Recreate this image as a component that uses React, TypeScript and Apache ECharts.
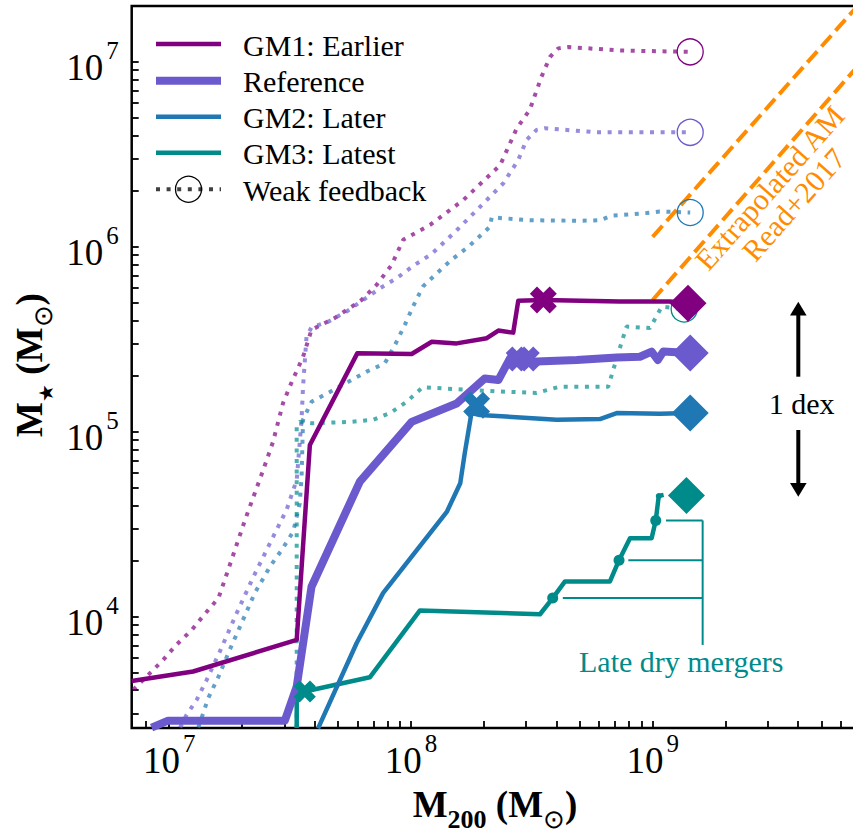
import { useEffect, useRef } from 'react';
import * as echarts from 'echarts';

const SERIF = 'Liberation Serif';

// ---------------- data (M200 and M* in solar masses) ----------------
// GM1: Earlier (solid)
const gm1M200 = [7.0e6, 1.257e7, 3.37e7, 3.82e7, 6.0e7, 1.007e8, 1.22e8, 1.546e8, 2.06e8, 2.3e8, 2.65e8, 2.78e8, 3.53e8, 7.3e8, 1.18e9, 1.4e9];
const gm1Mstar = [4.49e3, 5.05e3, 7.48e3, 8.47e4, 2.65e5, 2.63e5, 3.06e5, 3.0e5, 3.2e5, 3.52e5, 3.43e5, 5.1e5, 5.15e5, 5.05e5, 5.05e5, 4.94e5];
// Reference (solid)
const refM200 = [8.46e6, 9.9e6, 3.01e7, 3.37e7, 3.88e7, 6.15e7, 1.007e8, 1.546e8, 2.02e8, 2.3e8, 2.57e8, 3.1e8, 4.85e8, 7.1e8, 8.86e8, 9.9e8, 1.05e9, 1.106e9, 1.43e9];
const refMstar = [2.51e3, 2.74e3, 2.74e3, 4.19e3, 1.45e4, 5.37e4, 1.13e5, 1.42e5, 1.94e5, 1.9e5, 2.49e5, 2.39e5, 2.44e5, 2.52e5, 2.54e5, 2.71e5, 2.44e5, 2.71e5, 2.66e5];
// GM2: Later (solid)
const gm2M200 = [4.13e7, 5.96e7, 7.67e7, 1.41e8, 1.6e8, 1.67e8, 1.78e8, 1.93e8, 4.01e8, 6.05e8, 7.1e8, 1.07e9, 1.43e9];
const gm2Mstar = [2.49e3, 7.18e3, 1.34e4, 3.7e4, 5.26e4, 7.64e4, 1.26e5, 1.23e5, 1.16e5, 1.17e5, 1.26e5, 1.25e5, 1.26e5];
// GM3: Latest (solid)
const gm3M200 = [3.37e7, 3.37e7, 3.64e7, 6.76e7, 1.09e8, 3.42e8, 3.86e8, 4.34e8, 6.66e8, 7.26e8, 8.06e8, 9.9e8, 1.03e9, 1.06e9, 1.11e9];
const gm3Mstar = [2.5e3, 4.02e3, 3.94e3, 4.7e3, 1.08e4, 1.03e4, 1.26e4, 1.55e4, 1.55e4, 2.02e4, 2.65e4, 2.65e4, 3.31e4, 4.49e4, 4.55e4];

// Weak feedback (dotted)
const gm1wM200 = [7.1e6, 8.19e6, 9.44e6, 1.07e7, 1.24e7, 1.41e7, 1.6e7, 1.81e7, 2.06e7, 2.45e7, 2.69e7, 2.96e7, 3.2e7, 3.58e7, 3.88e7, 4.85e7, 6.25e7, 7.21e7, 8.32e7, 9.29e7, 1.2e8, 1.65e8, 2.34e8, 2.74e8, 3.1e8, 3.47e8, 3.76e8, 4.07e8, 4.48e8, 7.32e8, 1.43e9];
const gm1wMstar = [4.02e3, 4.84e3, 5.83e3, 7.03e3, 8.47e3, 1.04e4, 1.26e4, 2.02e4, 3.33e4, 6.21e4, 8.82e4, 1.43e5, 1.83e5, 2.54e5, 3.55e5, 4.12e5, 5.15e5, 6.21e5, 7.96e5, 1.09e6, 1.31e6, 1.79e6, 2.76e6, 4.36e6, 5.48e6, 8.3e6, 1.06e7, 1.18e7, 1.2e7, 1.15e7, 1.13e7];
const refwM200 = [1.11e7, 1.18e7, 1.3e7, 1.43e7, 1.62e7, 1.9e7, 2.23e7, 2.53e7, 2.78e7, 3.06e7, 3.37e7, 3.53e7, 3.58e7, 3.7e7, 3.88e7, 4.55e7, 5.42e7, 7.45e7, 8.73e7, 1.02e8, 1.22e8, 1.55e8, 1.93e8, 2.41e8, 2.78e8, 3.01e8, 3.31e8, 3.58e8, 5.86e8, 1.43e9];
const refwMstar = [2.51e3, 2.94e3, 3.55e3, 4.55e3, 6.47e3, 1.04e4, 1.64e4, 2.29e4, 2.94e4, 3.78e4, 5.48e4, 1.16e5, 1.75e5, 3.26e5, 3.67e5, 3.93e5, 4.46e5, 5.96e5, 6.75e5, 7.86e5, 9.14e5, 1.23e6, 1.64e6, 2.2e6, 2.94e6, 3.78e6, 4.28e6, 4.37e6, 4.15e6, 4.15e6];
const gm2wM200 = [1.32e7, 1.45e7, 1.6e7, 1.78e7, 2.02e7, 2.26e7, 2.61e7, 2.92e7, 3.26e7, 3.47e7, 3.53e7, 3.58e7, 3.88e7, 4.62e7, 5.51e7, 6.56e7, 7.8e7, 8.59e7, 9.44e7, 1.02e8, 1.12e8, 1.28e8, 1.47e8, 1.73e8, 2.12e8, 2.16e8, 3.1e8, 5.0e8, 6.05e8, 6.77e8, 9.44e8, 1.07e9, 1.43e9];
const gm2wMstar = [2.51e3, 3.62e3, 4.74e3, 6.61e3, 9.6e3, 1.34e4, 1.86e4, 2.29e4, 2.88e4, 4.1e4, 5.71e4, 1.16e5, 1.45e5, 1.64e5, 1.86e5, 2.11e5, 2.34e5, 2.94e5, 3.78e5, 4.74e5, 6.08e5, 7.18e5, 8.48e5, 1.0e6, 1.28e6, 1.44e6, 1.39e6, 1.38e6, 1.39e6, 1.47e6, 1.52e6, 1.55e6, 1.53e6];
const gm3wM200 = [3.37e7, 3.37e7, 3.47e7, 3.88e7, 5.68e7, 6.99e7, 8.19e7, 9.6e7, 1.12e8, 1.28e8, 2.26e8, 3.31e8, 4.13e8, 6.55e8, 7.2e8, 7.8e8, 9.75e8, 1.09e9, 1.35e9];
const gm3wMstar = [2.5e3, 1.09e5, 1.13e5, 1.11e5, 1.13e5, 1.16e5, 1.26e5, 1.45e5, 1.74e5, 1.72e5, 1.65e5, 1.62e5, 1.75e5, 1.75e5, 2.65e5, 3.7e5, 3.63e5, 4.74e5, 4.6e5];

// end points (z=0)
const finalM200 = [1.4e9, 1.43e9, 1.43e9, 1.38e9];
const finalMstar = [4.94e5, 2.66e5, 1.26e5, 4.52e4];
const weakFinalM200 = [1.43e9, 1.43e9, 1.43e9, 1.35e9];
const weakFinalMstar = [1.13e7, 4.15e6, 1.53e6, 4.6e5];
// X markers (GM1, Reference x2, GM2, GM3)
const crossM200 = [3.53e8, 2.78e8, 3.03e8, 1.87e8, 3.64e7];
const crossMstar = [5.15e5, 2.47e5, 2.47e5, 1.39e5, 3.94e3];
// late dry mergers on GM3
const mergerM200 = [3.86e8, 7.26e8, 1.03e9, 1.06e9];
const mergerMstar = [1.26e4, 2.02e4, 3.31e4, 4.49e4];
// Extrapolated abundance matching (Read+2017) band edges
const amM200 = [1e9, 1e10];
const amUpper = [1.13e6, 3.36e7];
const amLower = [5.15e5, 1.59e7];
// bracket for "Late dry mergers"
const bracketStartM200 = [4.25e8, 7.93e8, 1.135e9];
const bracketEndM200 = 1.61e9;
const bracketLowMstar = 7.03e3;

// tick values
const xTickLabels = [1e7, 1e8, 1e9];
const yTickLabels = [1e4, 1e5, 1e6, 1e7];

const PURPLE = '#800080';
const SLATE = '#6A5ACD';
const BLUE = '#1F77B4';
const TEAL = '#008B8B';
const ORANGE = '#FF8C00';

const pairs = (xs: number[], ys: number[]) => xs.map((x, i) => [x, ys[i]]);

function minorTicks(lo: number, hi: number) {
  const out: number[] = [];
  for (let e = 2; e <= 10; e++) {
    const p = Math.pow(10, e);
    for (let m = 1; m <= 9; m++) {
      const v = m * p;
      if (v >= lo * 0.999 && v <= hi * 1.001) out.push(v);
    }
  }
  return out;
}

const X_MIN = 7e6, X_MAX = 1e10, Y_MIN = 2.5e3, Y_MAX = 2e7;

const XPATH = 'path://M-0.18,-0.5L0.18,-0.5L0.18,-0.18L0.5,-0.18L0.5,0.18L0.18,0.18L0.18,0.5L-0.18,0.5L-0.18,0.18L-0.5,0.18L-0.5,-0.18L-0.18,-0.18Z';

const labelRich = {
  b: { fontFamily: SERIF, fontSize: 37, color: '#000', verticalAlign: 'top', padding: [11, 0, 0, 0] },
  s: { fontFamily: SERIF, fontSize: 25, color: '#000', verticalAlign: 'top', padding: [0, 0, 0, 3] },
};
const powFmt = (v: number) => `{b|10}{s|${Math.round(Math.log10(v))}}`;

function solid(name: string, xs: number[], ys: number[], color: string, width: number, z = 4) {
  return {
    name, type: 'line', data: pairs(xs, ys), symbol: 'none', silent: true, z,
    lineStyle: { color, width, cap: 'butt', join: 'round' },
  };
}
function dotted(name: string, xs: number[], ys: number[], color: string) {
  return {
    name, type: 'line', data: pairs(xs, ys), symbol: 'none', silent: true, z: 2,
    lineStyle: { color, width: 4, opacity: 0.7, type: [4, 6.6], cap: 'butt' },
  };
}

// Plain serif text, positioned by its top-left corner (default left/top alignment).
function plainText(x: number, y: number, text: string, fill: string, rotation?: number) {
  const el: any = {
    type: 'text', x, y, z: 100,
    style: { text, fontFamily: SERIF, fontSize: 30, fill, legacy: false },
  };
  if (rotation) el.rotation = rotation;
  return el;
}

function buildOption() {
  const series: any[] = [
    dotted('GM1 weak', gm1wM200, gm1wMstar, PURPLE),
    dotted('Reference weak', refwM200, refwMstar, SLATE),
    dotted('GM2 weak', gm2wM200, gm2wMstar, BLUE),
    dotted('GM3 weak', gm3wM200, gm3wMstar, TEAL),
    {
      name: 'AM upper', type: 'line', data: pairs(amM200, amUpper), symbol: 'none', silent: true, z: 3,
      lineStyle: { color: ORANGE, width: 4, type: [14.8, 6.4], cap: 'butt' },
    },
    {
      name: 'AM lower', type: 'line', data: pairs(amM200, amLower), symbol: 'none', silent: true, z: 3,
      lineStyle: { color: ORANGE, width: 4, type: [14.8, 6.4], cap: 'butt' },
    },
    solid('GM3: Latest', gm3M200, gm3Mstar, TEAL, 4.5),
    solid('GM2: Later', gm2M200, gm2Mstar, BLUE, 4.5),
    solid('Reference', refM200, refMstar, SLATE, 8),
    solid('GM1: Earlier', gm1M200, gm1Mstar, PURPLE, 4.5),
  ];
  // bracket
  bracketStartM200.forEach((x0, i) => {
    series.push({
      type: 'line', symbol: 'none', silent: true, z: 3,
      data: [[x0, mergerMstar[i]], [bracketEndM200, mergerMstar[i]]],
      lineStyle: { color: TEAL, width: 2 },
    });
  });
  series.push({
    type: 'line', symbol: 'none', silent: true, z: 3,
    data: [[bracketEndM200, mergerMstar[2]], [bracketEndM200, bracketLowMstar]],
    lineStyle: { color: TEAL, width: 2 },
  });
  // circles (weak feedback end points)
  const wColors = [PURPLE, SLATE, BLUE, TEAL];
  series.push({
    type: 'scatter', silent: true, z: 5, symbol: 'circle', symbolSize: 26,
    data: weakFinalM200.map((x, i) => ({
      value: [x, weakFinalMstar[i]],
      itemStyle: { color: 'rgba(0,0,0,0)', borderColor: wColors[i], borderWidth: 1.3, opacity: 1 },
    })),
  });
  // merger dots
  series.push({
    type: 'scatter', silent: true, z: 6, symbol: 'circle',
    data: mergerM200.map((x, i) => ({
      value: [x, mergerMstar[i]], symbolSize: i < 3 ? 11 : 6, itemStyle: { color: TEAL, opacity: 1 },
    })),
  });
  // crosses
  const cColors = [PURPLE, SLATE, SLATE, BLUE, TEAL];
  const cSizes = [28, 26, 26, 28, 23];
  series.push({
    type: 'scatter', silent: true, z: 7, symbol: XPATH, symbolRotate: 45,
    data: crossM200.map((x, i) => ({
      value: [x, crossMstar[i]], symbolSize: cSizes[i], itemStyle: { color: cColors[i], opacity: 1 },
    })),
  });
  // diamonds
  const dColors = [PURPLE, SLATE, BLUE, TEAL];
  series.push({
    type: 'scatter', silent: true, z: 8, symbol: 'diamond', symbolSize: 37,
    data: finalM200.map((x, i) => ({ value: [x, finalMstar[i]], itemStyle: { color: dColors[i], opacity: 1 } })),
  });

  const legendRows = [
    { label: 'GM1: Earlier', color: PURPLE, w: 4.5, y: 44 },
    { label: 'Reference', color: SLATE, w: 8, y: 80.7 },
    { label: 'GM2: Later', color: BLUE, w: 4.5, y: 116.7 },
    { label: 'GM3: Latest', color: TEAL, w: 4.5, y: 152.7 },
  ];
  const graphic: any[] = [];
  legendRows.forEach((r) => {
    graphic.push({ type: 'line', shape: { x1: 156, y1: r.y, x2: 221, y2: r.y }, style: { stroke: r.color, lineWidth: r.w }, z: 100 });
    graphic.push(plainText(243, r.y - 14, r.label, '#000'));
  });
  graphic.push({ type: 'line', shape: { x1: 156, y1: 189.3, x2: 221, y2: 189.3 }, style: { stroke: 'rgba(0,0,0,0.75)', lineWidth: 4, lineDash: [4, 6.6] }, z: 100 });
  graphic.push({ type: 'circle', shape: { cx: 188.5, cy: 189.3, r: 13 }, style: { fill: 'none', stroke: '#000', lineWidth: 1.3 }, z: 100 });
  graphic.push(plainText(243, 175.3, 'Weak feedback', '#000'));

  // axis titles
  const titleRich = {
    b: { fontFamily: SERIF, fontSize: 37, fontWeight: 'bold', fill: '#000', verticalAlign: 'top' },
    s: { fontFamily: SERIF, fontSize: 26, fontWeight: 'bold', fill: '#000', verticalAlign: 'top', padding: [20, 0, 0, 0] },
    st: { fontFamily: SERIF, fontSize: 20, fill: '#000', verticalAlign: 'top', padding: [25, 0, 0, 0] },
    o: { fontFamily: SERIF, fontSize: 26, fill: '#000', verticalAlign: 'top', padding: [20, 0, 0, 0] },
  };
  graphic.push({ type: 'text', x: 495, y: 809, z: 100, style: { text: '{b|M}{s|200}{b| (M}{o|⊙}{b|)}', rich: titleRich, align: 'center', verticalAlign: 'middle' } });
  graphic.push({ type: 'text', x: 33.8, y: 365, rotation: Math.PI / 2, z: 100, style: { text: '{b|M}{st|★}{b| (M}{o|⊙}{b|)}', rich: titleRich, align: 'center', verticalAlign: 'middle' } });

  // annotations (top-left anchored; rotated ones pre-offset so their centres sit on the band)
  graphic.push(plainText(689.4, 255.3, 'Extrapolated AM', ORANGE, 0.845));
  graphic.push(plainText(736.3, 246.3, 'Read+2017', ORANGE, 0.845));
  graphic.push(plainText(579, 646.6, 'Late dry mergers', TEAL));
  graphic.push(plainText(768.8, 388, '1 dex', '#000'));
  graphic.push({ type: 'line', shape: { x1: 798.3, y1: 376.7, x2: 798.3, y2: 312 }, style: { stroke: '#000', lineWidth: 4 }, z: 100 });
  graphic.push({ type: 'polygon', shape: { points: [[798.3, 301.7], [790, 315.5], [806.6, 315.5]] }, style: { fill: '#000' }, z: 100 });
  graphic.push({ type: 'line', shape: { x1: 798.3, y1: 430, x2: 798.3, y2: 486 }, style: { stroke: '#000', lineWidth: 4 }, z: 100 });
  graphic.push({ type: 'polygon', shape: { points: [[798.3, 496.7], [790, 482.9], [806.6, 482.9]] }, style: { fill: '#000' }, z: 100 });

  return {
    animation: false,
    backgroundColor: '#fff',
    grid: { left: 131.7, top: 6, width: 762.7, height: 722, show: true, borderColor: '#000', borderWidth: 2.5, backgroundColor: 'transparent' },
    xAxis: {
      type: 'log', logBase: 10, min: X_MIN, max: X_MAX,
      axisLine: { show: false },
      splitLine: { show: false },
      axisTick: { show: true, inside: true, length: 7, lineStyle: { color: '#000', width: 1.8 }, customValues: minorTicks(X_MIN, X_MAX) },
      axisLabel: { customValues: xTickLabels, formatter: powFmt, rich: labelRich, margin: 3 },
    },
    yAxis: {
      type: 'log', logBase: 10, min: Y_MIN, max: Y_MAX,
      axisLine: { show: false },
      splitLine: { show: false },
      axisTick: { show: true, inside: true, length: 7, lineStyle: { color: '#000', width: 1.8 }, customValues: minorTicks(Y_MIN, Y_MAX) },
      axisLabel: { customValues: yTickLabels, formatter: powFmt, rich: labelRich, margin: 13 },
    },
    series,
    graphic,
  };
}

export default function App() {
  const ref = useRef<HTMLDivElement>(null);
  useEffect(() => {
    if (!ref.current) return;
    const chart = echarts.init(ref.current, undefined, { renderer: 'svg' });
    chart.setOption(buildOption() as any);
    return () => chart.dispose();
  }, []);
  return (
    <div style={{ position: 'fixed', left: 0, top: 0, width: 853, height: 834, overflow: 'hidden', background: '#fff' }}>
      <div ref={ref} style={{ width: 900, height: 834 }} />
    </div>
  );
}
